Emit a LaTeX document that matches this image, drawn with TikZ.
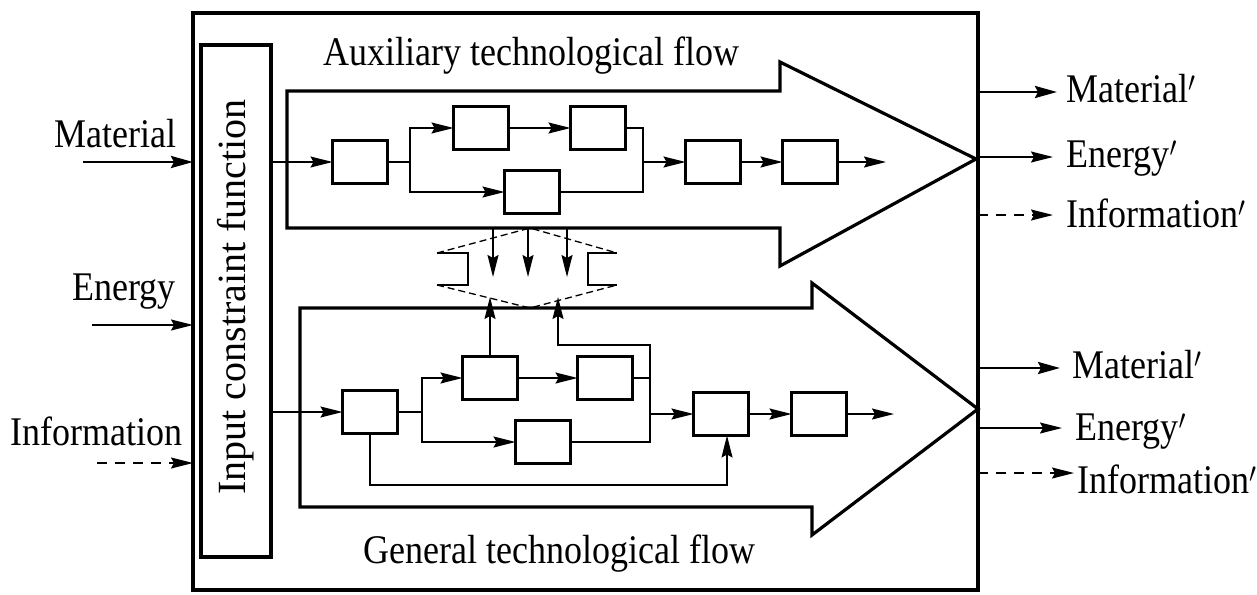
\documentclass[tikz,border=0pt]{standalone}
\usepackage{fontspec}
\setmainfont{Liberation Serif}
\usetikzlibrary{arrows.meta}
\newcommand{\tall}[1]{\scalebox{1}[1.13]{#1}}
\begin{document}
\begin{tikzpicture}[x=1pt,y=-1pt,
  thickline/.style={line width=3.2pt},
  conn/.style={line width=1.5pt},
  arr/.style={conn,-{Stealth[length=22pt,width=11pt,inset=3pt]}},
  fatarr/.style={line width=2.8pt,-{Stealth[length=22pt,width=12pt,inset=3pt]}},
  dasharr/.style={arr,dash pattern=on 10pt off 8pt},
  blk/.style={draw,line width=3pt,minimum width=55pt,minimum height=43pt,inner sep=0pt,outer sep=0pt},
  lbl/.style={font=\fontsize{36}{40}\selectfont,inner sep=0pt},
  dsh/.style={line width=1.3pt,dash pattern=on 7pt off 4pt},
]
\useasboundingbox (0,0) rectangle (1257,594);
\fill[white] (0,0) rectangle (1257,594);

% outer frame and input constraint box
\node[draw,thickline,minimum width=785pt,minimum height=577pt,inner sep=0pt,outer sep=0pt] (frame) at (585.5,301.5) {};
\node[draw,thickline,minimum width=70pt,minimum height=512pt,inner sep=0pt,outer sep=0pt] (icf) at (236,301) {};
\node[lbl,rotate=90,font=\fontsize{40}{44}\selectfont] (icft) at (236,297) {Input constraint function};

% big flow arrows
\draw[thickline,line join=miter] (287,91) -- (780,91) -- (780,62) -- (976,159) -- (780,266) -- (780,228) -- (287,228) -- cycle;
\draw[thickline,line join=miter] (300,308) -- (812,308) -- (812,283) -- (978,409) -- (812,535) -- (812,507) -- (300,507) -- cycle;

\node[lbl,anchor=base west] (aux) at (323,65) {\tall{Auxiliary technological flow}};
\node[lbl,anchor=base west] (gen) at (363,563) {\tall{General technological flow}};

% upper chain
\node[blk] (A1) at (360,162) {};
\node[blk] (A2) at (481,128) {};
\node[blk] (A3) at (598,128) {};
\node[blk] (A4) at (532,192) {};
\node[blk] (A5) at (713,162) {};
\node[blk] (A6) at (810,162) {};
\coordinate (sA) at (410,162);
\coordinate (mA) at (643,162);
\coordinate (oA) at (886,162);
\draw[arr] (icf.east |- A1) -- (A1.west);
\draw[conn] (A1.east) -- (sA);
\draw[arr] (sA) |- (A2.west);
\draw[arr] (sA) |- (A4.west);
\draw[arr] (A2.east) -- (A3.west);
\draw[conn] (A3.east) -| (mA) |- (A4.east);
\draw[arr] (mA) -- (A5.west);
\draw[arr] (A5.east) -- (A6.west);
\draw[arr] (A6.east) -- (oA);

% lower chain
\node[blk] (B1) at (370,412) {};
\node[blk] (B2) at (490,378) {};
\node[blk] (B3) at (605,378) {};
\node[blk] (B4) at (543,442) {};
\node[blk] (B5) at (721,414) {};
\node[blk] (B6) at (819,414) {};
\coordinate (sB) at (422,412);
\coordinate (mB) at (650,412);
\coordinate (mBt) at (650,345);
\coordinate (tipR) at (558,297);
\coordinate (yb) at (500,485);
\coordinate (oB) at (894,414);
\draw[arr] (icf.east |- B1) -- (B1.west);
\draw[conn] (B1.east) -- (sB);
\draw[arr] (sB) |- (B2.west);
\draw[arr] (sB) |- (B4.west);
\draw[arr] (B2.east) -- (B3.west);
\draw[conn] (B3.east) -- (B3.east -| mBt);
\draw[arr] (B4.east) -| (mBt) -| (tipR);
\draw[arr] (B2.north) -- (B2.north |- tipR);
\draw[arr] (mB |- B5.west) -- (B5.west);
\draw[arr] (B5.east) -- (B6.west);
\draw[arr] (B6.east) -- (oB);
\draw[arr] (B1.south) |- (yb) -| ([xshift=6pt]B5.south);

% exchange double arrow
\draw[dsh] (437,253) -- (530,228) -- (617,253);
\draw[dsh] (437,285) -- (530,308) -- (617,285);
\draw[line width=1.2pt] (437,253) -- (468,253) -- (468,285) -- (437,285);
\draw[line width=1.2pt] (617,253) -- (588,253) -- (588,285) -- (617,285);
\coordinate (d1t) at (493,228); \coordinate (d1b) at (493,277);
\coordinate (d2t) at (528,228); \coordinate (d2b) at (528,277);
\coordinate (d3t) at (567,228); \coordinate (d3b) at (567,277);
\draw[arr] (d1t) -- (d1b);
\draw[arr] (d2t) -- (d2b);
\draw[arr] (d3t) -- (d3b);

% inputs
\node[lbl,anchor=base east] (inM) at (177,147) {\tall{Material}};
\node[lbl,anchor=base east] (inE) at (176,300) {\tall{Energy}};
\node[lbl,anchor=base east] (inI) at (183,445) {\tall{Information}};
\coordinate (inMs) at (83,162);
\coordinate (inEs) at (92,325);
\coordinate (inIs) at (97,463);
\draw[fatarr] (inMs) -- (inMs -| frame.west);
\draw[arr] (inEs) -- (inEs -| frame.west);
\draw[dasharr] (inIs) -- (inIs -| frame.west);

% outputs
\coordinate (o1) at (1057,92);
\coordinate (o2) at (1053,157);
\coordinate (o3) at (1053,215);
\coordinate (o4) at (1060,368);
\coordinate (o5) at (1062,428);
\coordinate (o6) at (1074,473);
\draw[fatarr] (o1 -| frame.east) -- (o1);
\draw[arr] (o2 -| frame.east) -- (o2);
\draw[dasharr] (o3 -| frame.east) -- (o3);
\draw[fatarr] (o4 -| frame.east) -- (o4);
\draw[arr] (o5 -| frame.east) -- (o5);
\draw[dasharr] (o6 -| frame.east) -- (o6);
\node[lbl,anchor=base west] (outM1) at (1066,102) {\tall{Material$'$}};
\node[lbl,anchor=base west] (outE1) at (1066,167) {\tall{Energy$'$}};
\node[lbl,anchor=base west] (outI1) at (1066,227) {\tall{Information$'$}};
\node[lbl,anchor=base west] (outM2) at (1072,378) {\tall{Material$'$}};
\node[lbl,anchor=base west] (outE2) at (1075,440) {\tall{Energy$'$}};
\node[lbl,anchor=base west] (outI2) at (1077,493) {\tall{Information$'$}};
\end{tikzpicture}
\end{document}
